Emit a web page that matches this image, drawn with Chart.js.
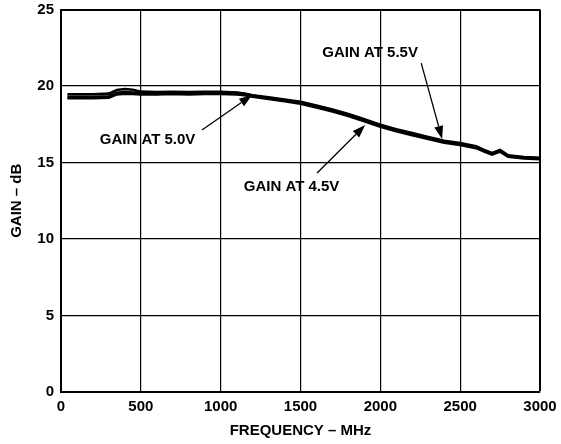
<!DOCTYPE html>
<html>
<head>
<meta charset="utf-8">
<script src="https://cdn.jsdelivr.net/npm/chart.js@4"></script>
<style>
html,body{margin:0;padding:0;background:#fff;}
#wrap{width:561px;height:444px;position:relative;}
</style>
</head>
<body>
<div id="wrap"><canvas id="c" width="561" height="444"></canvas></div>
<script>
const freqMHz = [40,100,200,300,350,400,450,500,600,700,800,900,1000,1100,1150,1200,1300,1400,1500,1600,1700,1800,1900,2000,2100,2200,2300,2400,2500,2600,2650,2700,2750,2800,2900,3000];
const gain45 = [19.2,19.2,19.2,19.23,19.45,19.5,19.48,19.45,19.45,19.48,19.45,19.48,19.48,19.45,19.4,19.3,19.15,19.0,18.84,18.59,18.34,18.04,17.69,17.34,17.04,16.79,16.54,16.29,16.14,15.94,15.71,15.51,15.71,15.37,15.27,15.21];
const gain50 = [19.3,19.3,19.3,19.33,19.55,19.6,19.57,19.55,19.55,19.58,19.55,19.58,19.58,19.55,19.48,19.38,19.22,19.07,18.92,18.67,18.42,18.12,17.77,17.42,17.12,16.87,16.62,16.37,16.22,16.02,15.78,15.58,15.78,15.43,15.32,15.27];
const gain55 = [19.46,19.46,19.46,19.5,19.74,19.8,19.76,19.63,19.6,19.62,19.6,19.62,19.62,19.58,19.5,19.4,19.26,19.12,18.97,18.72,18.47,18.17,17.82,17.47,17.17,16.92,16.67,16.42,16.27,16.07,15.82,15.62,15.82,15.47,15.36,15.31];
const xTicks = [0,500,1000,1500,2000,2500,3000];
const yTicks = [0,5,10,15,20,25];

const FONT = "'Liberation Sans', Arial, Helvetica, sans-serif";

const notes = [
  {text:'GAIN AT 5.5V', tx:1936, ty:22.16, ax0:2256, ay0:21.5, ax1:2387, ay1:16.54},
  {text:'GAIN AT 4.5V', tx:1444, ty:13.4, ax0:1604, ay0:14.31, ax1:1905, ay1:17.45},
  {text:'GAIN AT 5.0V', tx:542, ty:16.47, ax0:883, ay0:17.12, ax1:1197, ay1:19.41}
];

const toPts = arr => freqMHz.map((f,i)=>({x:f,y:arr[i]}));

const annotPlugin = {
  id:'annot',
  afterDatasetsDraw(chart){
    const ctx = chart.ctx, xs = chart.scales.x, ys = chart.scales.y;
    ctx.save();
    ctx.fillStyle='#000'; ctx.strokeStyle='#000';
    ctx.font = "bold 15px " + FONT;
    ctx.textAlign='center'; ctx.textBaseline='middle';
    notes.forEach(n=>{
      const tx = xs.getPixelForValue(n.tx), ty = ys.getPixelForValue(n.ty);
      ctx.fillText(n.text, tx, ty);
      const x0 = xs.getPixelForValue(n.ax0), y0 = ys.getPixelForValue(n.ay0);
      const x1 = xs.getPixelForValue(n.ax1), y1 = ys.getPixelForValue(n.ay1);
      const ang = Math.atan2(y1-y0, x1-x0);
      const hl = 13, hw = 4.5;
      const bx = x1 - hl*Math.cos(ang), by = y1 - hl*Math.sin(ang);
      ctx.lineWidth = 1.3;
      ctx.beginPath(); ctx.moveTo(x0,y0); ctx.lineTo(bx,by); ctx.stroke();
      ctx.beginPath();
      ctx.moveTo(x1,y1);
      ctx.lineTo(bx + hw*Math.sin(ang), by - hw*Math.cos(ang));
      ctx.lineTo(bx - hw*Math.sin(ang), by + hw*Math.cos(ang));
      ctx.closePath(); ctx.fill();
    });
    ctx.restore();
  }
};

const ds = (label, arr) => ({label, data: toPts(arr), borderColor:'#000', backgroundColor:'#000', borderWidth:2.6, pointRadius:0, tension:0, fill:false});

new Chart(document.getElementById('c'), {
  type:'line',
  data:{datasets:[ds('Gain at 4.5V',gain45), ds('Gain at 5.0V',gain50), ds('Gain at 5.5V',gain55)]},
  options:{
    responsive:false, animation:false, devicePixelRatio:1,
    layout:{padding:{top:9.5,right:21,left:0,bottom:0}},
    plugins:{legend:{display:false}, tooltip:{enabled:false}},
    scales:{
      x:{type:'linear', min:0, max:3000,
        afterBuildTicks(s){ s.ticks = xTicks.map(v=>({value:v})); },
        afterFit(s){ s.height = 52; s.paddingLeft = 0; s.paddingRight = 0; },
        ticks:{color:'#000', padding:6, maxRotation:0, callback:v=>String(v), font:{family:FONT, size:15, weight:'bold'}},
        grid:{color:'#000', lineWidth:c=> (c.tick && c.tick.value===3000) ? 2 : 1.2, drawTicks:false},
        border:{color:'#000', width:2},
        title:{display:true, text:'FREQUENCY – MHz', color:'#000', font:{family:FONT, size:15, weight:'bold'}, padding:{top:4,bottom:4}}
      },
      y:{type:'linear', min:0, max:25,
        afterBuildTicks(s){ s.ticks = yTicks.map(v=>({value:v})); },
        afterFit(s){ s.width = 61; s.paddingTop = 0; s.paddingBottom = 0; },
        ticks:{color:'#000', padding:7, callback:v=>String(v), font:{family:FONT, size:15, weight:'bold'}},
        grid:{color:'#000', lineWidth:c=> (c.tick && c.tick.value===25) ? 2 : 1.2, drawTicks:false},
        border:{color:'#000', width:2},
        title:{display:true, text:'GAIN – dB', color:'#000', font:{family:FONT, size:15, weight:'bold'}, padding:{top:8,bottom:8}}
      }
    }
  },
  plugins:[annotPlugin]
});
</script>
</body>
</html>
